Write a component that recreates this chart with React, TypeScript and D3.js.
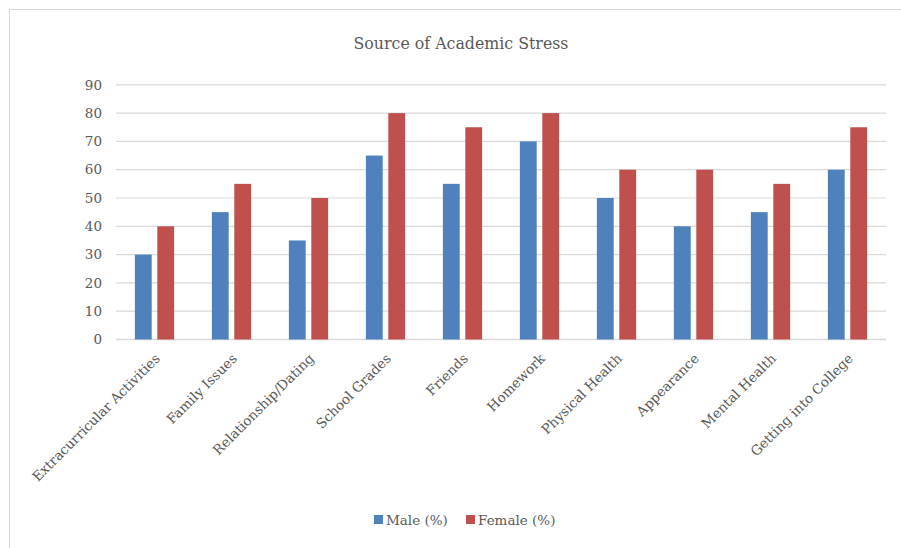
import React from "react";
import * as d3 from "d3";

const categories = [
  "Extracurricular Activities",
  "Family Issues",
  "Relationship/Dating",
  "School Grades",
  "Friends",
  "Homework",
  "Physical Health",
  "Appearance",
  "Mental Health",
  "Getting into College",
];
const maleValues = [30, 45, 35, 65, 55, 70, 50, 40, 45, 60];
const femaleValues = [40, 55, 50, 80, 75, 80, 60, 60, 55, 75];
const seriesNames = ["Male (%)", "Female (%)"];
const seriesColors = ["#4F81BD", "#C0504D"];
const yTicks = [0, 10, 20, 30, 40, 50, 60, 70, 80, 90];
const title = "Source of Academic Stress";

const W = 901;
const H = 548;
const FONT = "'DejaVu Serif', serif";
const TEXT = "#595959";

export default function App() {
  const x = d3
    .scaleBand<string>()
    .domain(categories)
    .range([116, 886])
    .paddingInner(0.49)
    .paddingOuter(0.245);
  const xs = d3
    .scaleBand<string>()
    .domain(seriesNames)
    .range([0, x.bandwidth()])
    .paddingInner(0.25);
  const y = d3.scaleLinear().domain([0, 90]).range([339.5, 84.8]);
  const series = [maleValues, femaleValues];

  return (
    <svg
      width={W}
      height={H}
      style={{ position: "absolute", left: 0, top: 0, background: "#fff" }}
    >
      <rect x={0} y={0} width={W} height={H} fill="#fff" />
      <path d={`M9.5,${H} V9.5 H${W}`} fill="none" stroke="#d9d9d9" strokeWidth={1} />
      <text
        x={461}
        y={49}
        textAnchor="middle"
        fontFamily={FONT}
        fontSize={15.8}
        fill={TEXT}
      >
        {title}
      </text>
      {yTicks.map((t) => (
        <g key={t}>
          <line
            x1={116}
            x2={886}
            y1={y(t)}
            y2={y(t)}
            stroke="#d9d9d9"
            strokeWidth={t === 0 ? 1.5 : 1.2}
          />
          <text
            x={102}
            y={y(t)}
            dy="0.35em"
            textAnchor="end"
            fontFamily={FONT}
            fontSize={13.5}
            fill={TEXT}
          >
            {t}
          </text>
        </g>
      ))}
      {categories.map((c, i) => (
        <g key={c}>
          {series.map((vals, s) => (
            <rect
              key={s}
              x={(x(c) ?? 0) + (xs(seriesNames[s]) ?? 0)}
              y={y(vals[i])}
              width={xs.bandwidth()}
              height={y(0) - y(vals[i])}
              fill={seriesColors[s]}
            />
          ))}
        </g>
      ))}
      {categories.map((c) => {
        const cx = (x(c) ?? 0) + x.bandwidth() / 2 + 3;
        const cy = 356;
        return (
          <text
            key={c}
            transform={`translate(${cx},${cy}) rotate(-45)`}
            textAnchor="end"
            dy="0.35em"
            fontFamily={FONT}
            fontSize={13.5}
            fill={TEXT}
          >
            {c}
          </text>
        );
      })}
      {seriesNames.map((n, s) => {
        const lx = [374, 466][s];
        return (
          <g key={n}>
            <rect x={lx} y={515} width={9} height={9} fill={seriesColors[s]} />
            <text
              x={lx + 12}
              y={520}
              dy="0.35em"
              fontFamily={FONT}
              fontSize={13.5}
              fill={TEXT}
            >
              {n}
            </text>
          </g>
        );
      })}
    </svg>
  );
}
